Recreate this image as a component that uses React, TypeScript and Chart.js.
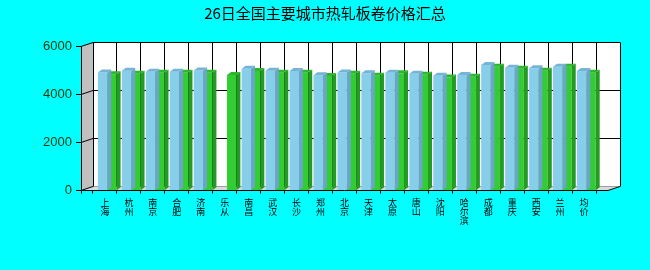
import React, { useEffect, useRef } from 'react';
import { Chart, registerables } from 'chart.js';

Chart.register(...registerables);

const TITLE = '26日全国主要城市热轧板卷价格汇总';
const CITIES = ['上海', '杭州', '南京', '合肥', '济南', '乐从', '南昌', '武汉', '长沙', '郑州', '北京', '天津', '太原', '唐山', '沈阳', '哈尔滨', '成都', '重庆', '西安', '兰州', '均价'];
const SERIES_A: (number | null)[] = [4920, 5000, 4960, 4960, 5010, null, 5080, 5000, 4990, 4810, 4920, 4890, 4910, 4870, 4790, 4820, 5240, 5120, 5100, 5160, 4990];
const SERIES_B: (number | null)[] = [4850, 4870, 4910, 4910, 4910, 4820, 4990, 4910, 4910, 4780, 4870, 4790, 4890, 4830, 4720, 4750, 5160, 5080, 5000, 5160, 4910];
const Y_MAX = 6000;
const Y_STEP = 2000;

const FRONT = ['#87CEEB', '#32CD32'];
const TOP = ['#74B4D6', '#2CB82C'];
const SIDE = ['#6AA6C6', '#259A25'];

const WALL_DX = 12;
const WALL_DY = -4;
const BAR_DX = 4;
const BAR_DY = -3;
const BAR_SHIFT = 2.3;

const crisp = (v: number) => Math.round(v - 0.5) + 0.5;

const framePlugin = {
  id: 'frame3d',
  beforeDraw(chart: any) {
    const { ctx, width, height } = chart;
    ctx.save();
    ctx.fillStyle = '#00FFFF';
    ctx.fillRect(0, 0, width, height);
    ctx.restore();
  },
  beforeDatasetsDraw(chart: any) {
    const { ctx, chartArea: a, scales } = chart;
    const L = a.left, R = a.right, T = a.top, B = a.bottom;
    const dx = WALL_DX, dy = WALL_DY;
    ctx.save();
    const poly = (pts: number[][], fill: string) => {
      ctx.beginPath();
      ctx.moveTo(pts[0][0], pts[0][1]);
      for (let i = 1; i < pts.length; i++) ctx.lineTo(pts[i][0], pts[i][1]);
      ctx.closePath();
      ctx.fillStyle = fill;
      ctx.fill();
    };
    poly([[L, T], [L + dx, T + dy], [L + dx, B + dy], [L, B]], '#C0C0C0');
    poly([[L, B], [R, B], [R + dx, B + dy], [L + dx, B + dy]], '#DADADA');
    ctx.fillStyle = '#FFFFFF';
    ctx.fillRect(L + dx, T + dy, R - L, B - T);

    ctx.lineWidth = 1;
    const line = (x1: number, y1: number, x2: number, y2: number, color = '#000') => {
      ctx.beginPath();
      ctx.strokeStyle = color;
      ctx.moveTo(x1, y1);
      ctx.lineTo(x2, y2);
      ctx.stroke();
    };
    const ys = scales.y;
    ys.ticks.forEach((t: any) => {
      const py = ys.getPixelForValue(t.value);
      line(L, crisp(py), L + dx, crisp(py + dy));
      if (t.value > 0) line(L + dx, crisp(py + dy), R + dx, crisp(py + dy));
      else line(L + dx, crisp(py + dy), R + dx, crisp(py + dy), '#A0A0A0');
    });
    const xs = scales.x;
    for (let i = 0; i < xs.ticks.length; i++) {
      const px = crisp(xs.getPixelForTick(i) + dx);
      line(px, crisp(T + dy), px, crisp(B + dy));
    }
    line(R, crisp(B), R + dx, crisp(B + dy));
    ctx.restore();

    ctx.save();
    ctx.translate(BAR_SHIFT, 0);
  },
  afterDatasetDraw(chart: any, args: any) {
    const { ctx } = chart;
    const meta = chart.getDatasetMeta(args.index);
    const k = args.index;
    meta.data.forEach((el: any, i: number) => {
      const v = chart.data.datasets[k].data[i];
      if (v === null || v === undefined) return;
      const x0 = el.x - el.width / 2;
      const x1 = el.x + el.width / 2;
      const top = el.y;
      const base = el.base;
      ctx.beginPath();
      ctx.moveTo(x0, top);
      ctx.lineTo(x1, top);
      ctx.lineTo(x1 + BAR_DX, top + BAR_DY);
      ctx.lineTo(x0 + BAR_DX, top + BAR_DY);
      ctx.closePath();
      ctx.fillStyle = TOP[k];
      ctx.fill();
      ctx.beginPath();
      ctx.moveTo(x1, top);
      ctx.lineTo(x1 + BAR_DX, top + BAR_DY);
      ctx.lineTo(x1 + BAR_DX, base + BAR_DY);
      ctx.lineTo(x1, base);
      ctx.closePath();
      ctx.fillStyle = SIDE[k];
      ctx.fill();
    });
  },
  afterDatasetsDraw(chart: any) {
    const { ctx, chartArea: a } = chart;
    ctx.restore();
    ctx.save();
    ctx.strokeStyle = '#000';
    ctx.lineWidth = 1;
    ctx.beginPath();
    ctx.moveTo(crisp(a.left), a.top);
    ctx.lineTo(crisp(a.left), a.bottom + 3);
    ctx.moveTo(a.left, crisp(a.bottom));
    ctx.lineTo(a.right, crisp(a.bottom));
    ctx.stroke();
    ctx.restore();
  },
};

export default function App() {
  const ref = useRef<HTMLCanvasElement>(null);
  useEffect(() => {
    document.body.style.margin = '0';
    document.body.style.background = '#00FFFF';
    const labels: (string | string[])[] = ['', ...CITIES.map((c) => Array.from(c)), ''];
    const chart = new Chart(ref.current!, {
      type: 'bar',
      data: {
        labels,
        datasets: [
          {
            data: [null, ...SERIES_A, null],
            backgroundColor: FRONT[0],
            borderWidth: 0,
            categoryPercentage: 0.78,
            barPercentage: 1,
            clip: false as any,
          },
          {
            data: [null, ...SERIES_B, null],
            backgroundColor: FRONT[1],
            borderWidth: 0,
            categoryPercentage: 0.78,
            barPercentage: 1,
            clip: false as any,
          },
        ],
      },
      options: {
        responsive: false,
        animation: false,
        devicePixelRatio: 1,
        layout: { padding: { left: 0, right: 0, top: 0, bottom: 0 } },
        plugins: {
          legend: { display: false },
          tooltip: { enabled: false },
          title: {
            display: true,
            text: TITLE,
            color: '#000',
            font: { family: '"Noto Sans CJK SC", sans-serif', size: 15, weight: 'normal', lineHeight: 1.2 },
            padding: { top: 4.3, bottom: 24.4 },
          },
        },
        scales: {
          x: {
            type: 'category',
            offset: false,
            grid: { display: true, drawOnChartArea: false, drawTicks: true, tickLength: 3, color: '#000' },
            border: { display: false },
            ticks: {
              autoSkip: false,
              maxRotation: 0,
              minRotation: 0,
              padding: 4,
              color: '#000',
              font: { family: '"Noto Sans CJK SC", sans-serif', size: 9, lineHeight: 1 },
            },
            afterFit: (s: any) => {
              s.height = 79.3;
            },
          },
          y: {
            min: 0,
            max: Y_MAX,
            ticks: {
              stepSize: Y_STEP,
              padding: 4,
              color: '#0A3A0A',
              font: { family: '"Liberation Sans", Arial, sans-serif', size: 13 },
              callback: (v: any) => String(v),
            },
            grid: { drawOnChartArea: false, tickLength: 5, color: '#000' },
            border: { display: false },
            afterFit: (s: any) => {
              s.width = 81;
            },
          },
          yRight: {
            position: 'right',
            min: 0,
            max: Y_MAX,
            ticks: { display: false },
            grid: { display: false },
            border: { display: false },
            afterFit: (s: any) => {
              s.width = 42;
            },
          },
        },
      },
      plugins: [framePlugin],
    });
    return () => chart.destroy();
  }, []);
  return (
    <div style={{ width: 650, height: 270, background: '#00FFFF' }}>
      <canvas ref={ref} width={650} height={270} style={{ display: 'block' }} />
    </div>
  );
}
